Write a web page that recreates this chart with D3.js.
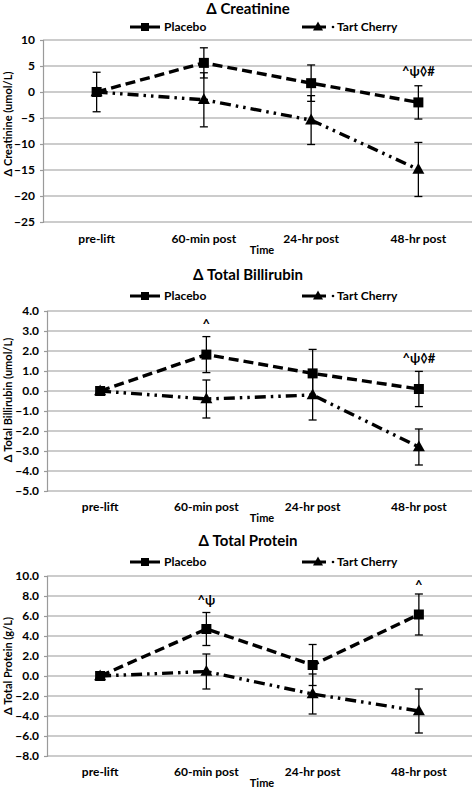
<!DOCTYPE html>
<html><head><meta charset="utf-8">
<script src="https://cdn.jsdelivr.net/npm/d3@7"></script>
<style>body{margin:0;background:#fff}svg{display:block}text{font-family:Lato,"Open Sans",sans-serif}</style>
</head><body>
<script>
const categories = ["pre-lift", "60-min post", "24-hr post", "48-hr post"];
const seriesNames = ["Placebo", "Tart Cherry"];

const creatinineTicks = [10, 5, 0, -5, -10, -15, -20, -25];
const creatininePlacebo = [0, 5.6, 1.7, -2.0];
const creatininePlaceboErr = [3.8, 2.9, 3.5, 3.2];
const creatinineTart = [0, -1.5, -5.4, -14.9];
const creatinineTartErr = [0, 5.2, 4.7, 5.2];
const creatinineNotes = ["", "", "", "^ψ◊#"];

const bilirubinTicks = [4, 3, 2, 1, 0, -1, -2, -3, -4, -5];
const bilirubinPlacebo = [0, 1.82, 0.88, 0.1];
const bilirubinPlaceboErr = [0, 0.9, 1.2, 0.88];
const bilirubinTart = [0, -0.4, -0.2, -2.8];
const bilirubinTartErr = [0, 0.95, 1.25, 0.9];
const bilirubinNotes = ["", "^", "", "^ψ◊#"];

const proteinTicks = [10, 8, 6, 4, 2, 0, -2, -4, -6, -8];
const proteinPlacebo = [0, 4.7, 1.1, 6.15];
const proteinPlaceboErr = [0, 1.65, 2.05, 2.05];
const proteinTart = [0, 0.45, -1.8, -3.5];
const proteinTartErr = [0, 1.75, 2.0, 2.2];
const proteinNotes = ["", "^ψ", "", "^"];

const panels = [
  {title: "Δ Creatinine", ylab: "Δ Creatinine (umol/L)", ticks: creatinineTicks, fmt: d3.format("d"),
   p: creatininePlacebo, pe: creatininePlaceboErr, t: creatinineTart, te: creatinineTartErr, notes: creatinineNotes,
   titleY: 14, legY: 27, y0: 40, y1: 222, x0: 43, noteY: [0,0,0,76], catY: 243, timeY: 254, ylabY: 124},
  {title: "Δ Total Billirubin", ylab: "Δ Total Billirubin (umol/L)", ticks: bilirubinTicks, fmt: d3.format(".1f"),
   p: bilirubinPlacebo, pe: bilirubinPlaceboErr, t: bilirubinTart, te: bilirubinTartErr, notes: bilirubinNotes,
   titleY: 280, legY: 296, y0: 311, y1: 491, x0: 47, noteY: [0,329,0,363], catY: 511, timeY: 522, ylabY: 400},
  {title: "Δ Total Protein", ylab: "Δ Total Protein (g/L)", ticks: proteinTicks, fmt: d3.format(".1f"),
   p: proteinPlacebo, pe: proteinPlaceboErr, t: proteinTart, te: proteinTartErr, notes: proteinNotes,
   titleY: 546, legY: 562, y0: 576, y1: 756, x0: 47, noteY: [0,605,0,590], catY: 776, timeY: 787, ylabY: 666}
];

const W = 473, H = 788;
const svg = d3.select("body").append("svg").attr("width", W).attr("height", H);
const grid = "#9a9a9a";
const dashP = "10,5";
const dashT = "11,5,2.5,5,2.5,5";

function square(g, x, y, s) {
  g.append("rect").attr("x", x - s/2).attr("y", y - s/2).attr("width", s).attr("height", s).attr("fill", "#000");
}
function triangle(g, x, y, s) {
  const h = s * 0.9;
  g.append("path").attr("d", `M${x},${y - h*0.6}L${x + s/2},${y + h*0.4}L${x - s/2},${y + h*0.4}Z`).attr("fill", "#000");
}

panels.forEach(P => {
  const g = svg.append("g");
  const x = d3.scaleBand().domain(categories).range([P.x0, 472]);
  const y = d3.scaleLinear().domain([P.ticks[P.ticks.length-1], P.ticks[0]]).range([P.y1, P.y0]);
  const cx = c => x(c) + x.bandwidth()/2;

  // title
  g.append("text").attr("x", 248).attr("y", P.titleY).attr("text-anchor", "middle")
    .attr("font-size", 15).attr("font-weight", 700).text(P.title);

  // legend
  const lg = g.append("g");
  lg.append("line").attr("x1", 130).attr("x2", 160).attr("y1", P.legY).attr("y2", P.legY)
    .attr("stroke", "#000").attr("stroke-width", 3);
  square(lg, 145, P.legY, 8);
  lg.append("text").attr("x", 164).attr("y", P.legY + 4).attr("font-size", 12).attr("font-weight", 700).text(seriesNames[0]);
  lg.append("line").attr("x1", 302).attr("x2", 326).attr("y1", P.legY).attr("y2", P.legY)
    .attr("stroke", "#000").attr("stroke-width", 3);
  triangle(lg, 318, P.legY, 10);
  lg.append("circle").attr("cx", 333).attr("cy", P.legY).attr("r", 1.3).attr("fill", "#000");
  lg.append("text").attr("x", 337).attr("y", P.legY + 4).attr("font-size", 12).attr("font-weight", 700).text(seriesNames[1]);

  // gridlines
  g.append("g").selectAll("line").data(P.ticks).join("line")
    .attr("x1", P.x0).attr("x2", 472).attr("y1", d => y(d)).attr("y2", d => y(d))
    .attr("stroke", grid).attr("stroke-width", 1.2);

  // y axis
  const ya = g.append("g").attr("transform", `translate(${P.x0},0)`)
    .call(d3.axisLeft(y).tickValues(P.ticks).tickFormat(P.fmt).tickSize(3).tickPadding(5));
  ya.select(".domain").attr("stroke", grid).attr("stroke-width", 1.2);
  ya.selectAll(".tick line").attr("stroke", grid).attr("stroke-width", 1.2);
  ya.selectAll("text").attr("font-size", 12).attr("font-weight", 700).attr("fill", "#000")
    .style("font-family", "Lato,sans-serif");

  // x axis labels
  g.append("g").selectAll("text").data(categories).join("text")
    .attr("x", d => cx(d)).attr("y", P.catY).attr("text-anchor", "middle")
    .attr("font-size", 12).attr("font-weight", 700).text(d => d);
  g.append("text").attr("x", 262).attr("y", P.timeY).attr("text-anchor", "middle")
    .attr("font-size", 11).attr("font-weight", 700).text("Time");

  // y label
  g.append("text").attr("transform", `translate(12,${P.ylabY}) rotate(-90)`).attr("text-anchor", "middle")
    .attr("font-size", 11).attr("font-weight", 700).text(P.ylab);

  // lines
  const line = d3.line().x((d, i) => cx(categories[i])).y(d => y(d));
  g.append("path").attr("d", line(P.p)).attr("fill", "none").attr("stroke", "#000")
    .attr("stroke-width", 3.4).attr("stroke-dasharray", dashP);
  g.append("path").attr("d", line(P.t)).attr("fill", "none").attr("stroke", "#000")
    .attr("stroke-width", 3.4).attr("stroke-dasharray", dashT);

  // error bars
  function errs(vals, es) {
    vals.forEach((v, i) => {
      if (!es[i]) return;
      const xx = cx(categories[i]);
      const eg = g.append("g").attr("stroke", "#000").attr("stroke-width", 1.3);
      eg.append("line").attr("x1", xx).attr("x2", xx).attr("y1", y(v + es[i])).attr("y2", y(v - es[i]));
      eg.append("line").attr("x1", xx - 4).attr("x2", xx + 4).attr("y1", y(v + es[i])).attr("y2", y(v + es[i]));
      eg.append("line").attr("x1", xx - 4).attr("x2", xx + 4).attr("y1", y(v - es[i])).attr("y2", y(v - es[i]));
    });
  }
  errs(P.p, P.pe);
  errs(P.t, P.te);

  // markers
  P.t.forEach((v, i) => triangle(g, cx(categories[i]), y(v), 12));
  P.p.forEach((v, i) => square(g, cx(categories[i]), y(v), 10));

  // annotations
  P.notes.forEach((n, i) => {
    if (!n) return;
    g.append("text").attr("x", cx(categories[i])).attr("y", P.noteY[i]).attr("text-anchor", "middle")
      .attr("font-size", 13).attr("font-weight", 700).text(n);
  });
});
</script>
</body></html>
